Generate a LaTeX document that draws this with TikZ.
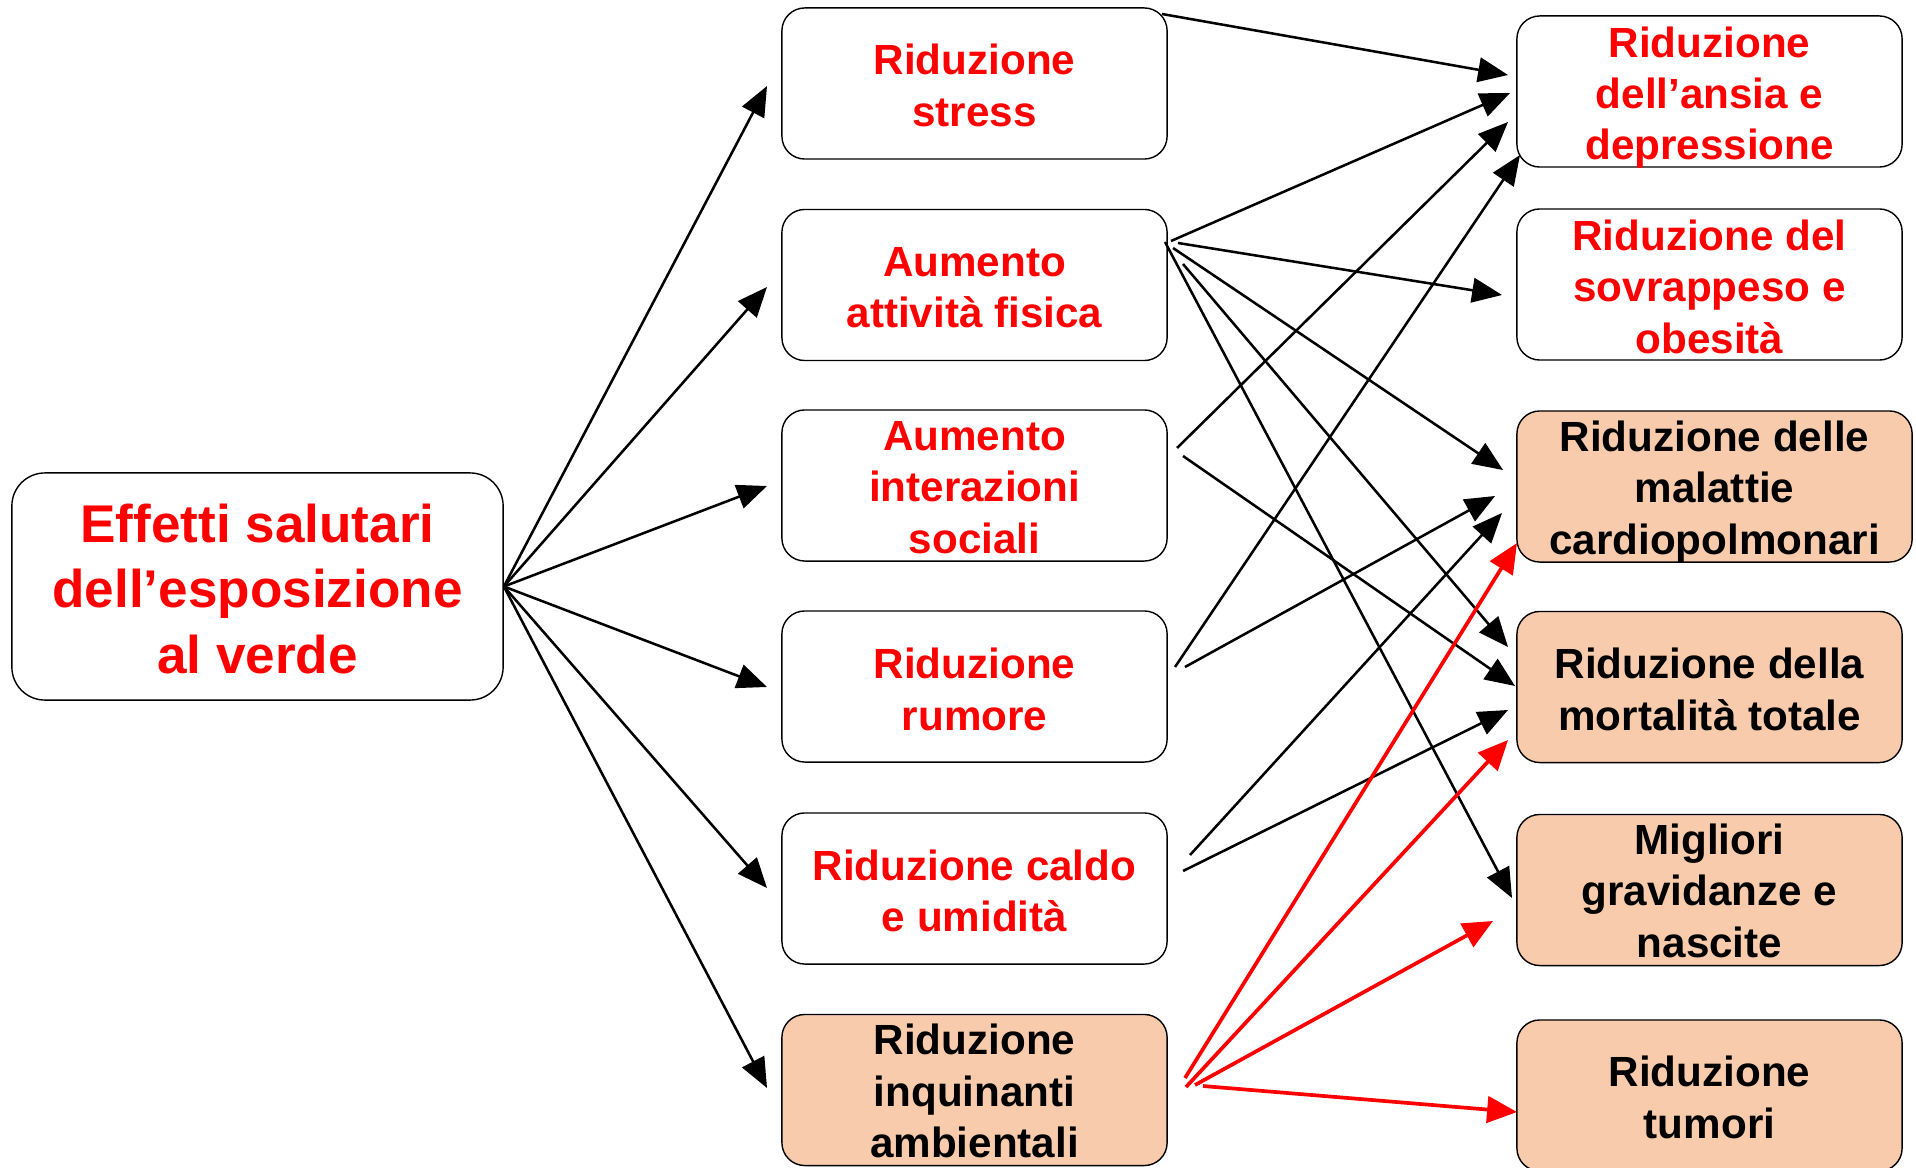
\documentclass[tikz,border=0pt]{standalone}
\usepackage{fontspec}
\setmainfont{Liberation Sans}
\usetikzlibrary{arrows.meta}
\definecolor{peach}{RGB}{248,203,173}
\definecolor{myred}{RGB}{255,0,0}
\begin{document}
\begin{tikzpicture}[x=0.01cm,y=-0.01cm,
  box/.style={draw=black, line width=0.4pt, rounded corners=6.5pt, inner sep=0pt,
    minimum width=3.85cm, minimum height=1.51cm},
  mainbox/.style={box, minimum width=4.91cm, minimum height=2.27cm, rounded corners=9.4pt},
  txt/.style={inner sep=0pt, align=center, font=\fontsize{12}{14.6}\selectfont\bfseries},
  maintxt/.style={txt, font=\fontsize{15.1}{18.6}\selectfont\bfseries, text=myred},
  redtxt/.style={text=myred},
  peachbox/.style={fill=peach},
  arr/.style={-{Triangle[length=8.5pt,width=7pt]}, line width=0.72pt, black},
  rarr/.style={-{Triangle[length=8.5pt,width=7.5pt]}, line width=1.05pt, myred}]
\useasboundingbox (0,0) rectangle (1916,1167);

% boxes
\node[mainbox] (main) at (257.5,586.5) {};
\node[box] (m1) at (974.5,83.5) {};
\node[box] (m2) at (974.5,285) {};
\node[box] (m3) at (974.5,485.5) {};
\node[box] (m4) at (974.5,686.5) {};
\node[box] (m5) at (974.5,888.5) {};
\node[box,peachbox] (m6) at (974.5,1090) {};
\node[box] (r1) at (1709.5,91.5) {};
\node[box] (r2) at (1709.5,284.5) {};
\node[box,peachbox,minimum width=3.95cm] (r3) at (1714.5,486.5) {};
\node[box,peachbox] (r4) at (1709.5,687) {};
\node[box,peachbox] (r5) at (1709.5,890) {};
\node[box,peachbox] (r6) at (1709.5,1095.5) {};

% texts
\node[maintxt] (maint) at ([yshift=-0.7pt]main.center) {Effetti salutari\\dell’esposizione\\al verde};
\node[txt,redtxt] (m1t) at ([yshift=-0.5pt]m1.center) {Riduzione\\stress};
\node[txt,redtxt] (m2t) at ([yshift=-0.7pt]m2.center) {Aumento\\attività fisica};
\node[txt,redtxt] (m3t) at ([yshift=-0.6pt]m3.center) {Aumento\\interazioni\\sociali};
\node[txt,redtxt] (m4t) at ([yshift=-0.8pt]m4.center) {Riduzione\\rumore};
\node[txt,redtxt] (m5t) at ([yshift=-0.7pt]m5.center) {Riduzione caldo\\e umidità};
\node[txt] (m6t) at ([yshift=-0.3pt]m6.center) {Riduzione\\inquinanti\\ambientali};
\node[txt,redtxt] (r1t) at ([yshift=-1.7pt]r1.center) {Riduzione\\dell’ansia e\\depressione};
\node[txt,redtxt] (r2t) at ([yshift=-0.6pt]r2.center) {Riduzione del\\sovrappeso e\\obesità};
\node[txt] (r3t) at ([yshift=-1.5pt]r3.center) {Riduzione delle\\malattie\\cardiopolmonari};
\node[txt] (r4t) at ([yshift=-0.7pt]r4.center) {Riduzione della\\mortalità totale};
\node[txt] (r5t) at ([yshift=-0.2pt]r5.center) {Migliori\\gravidanze e\\nascite};
\node[txt] (r6t) at ([yshift=-0.5pt]r6.center) {Riduzione\\tumori};

% arrows from main box to middle column
\foreach \n/\ty in {1/86,2/287,3/486,4/687,5/888,6/1088}{
  \coordinate (mt\n) at (767,\ty);
  \draw[arr] (main.east) -- (mt\n);
}

% black arrows middle -> right
\foreach \n/\sx/\sy/\tx/\ty in {
  1/1162/14/1508/75,
  2/1171/241/1510/93,
  3/1178/243/1502/295,
  4/1173/248/1503/470,
  5/1183/264/1508/647,
  6/1165/242/1512/898,
  7/1177/448/1508/122,
  8/1183/456/1515/686,
  9/1175/667/1520/155,
  10/1185/667/1495/496,
  11/1190/855/1502/513,
  12/1183/871/1508/710}{
  \coordinate (s\n) at (\sx,\sy);
  \coordinate (e\n) at (\tx,\ty);
  \draw[arr] (s\n) -- (e\n);
}

% red arrows from pollutant reduction
\foreach \n/\sx/\sy/\tx/\ty in {
  13/1185/1078/1517/543,
  14/1186/1087/1508/740,
  15/1195/1085/1493/921,
  16/1203/1086/1517/1112}{
  \coordinate (s\n) at (\sx,\sy);
  \coordinate (e\n) at (\tx,\ty);
  \draw[rarr] (s\n) -- (e\n);
}
\end{tikzpicture}
\end{document}
